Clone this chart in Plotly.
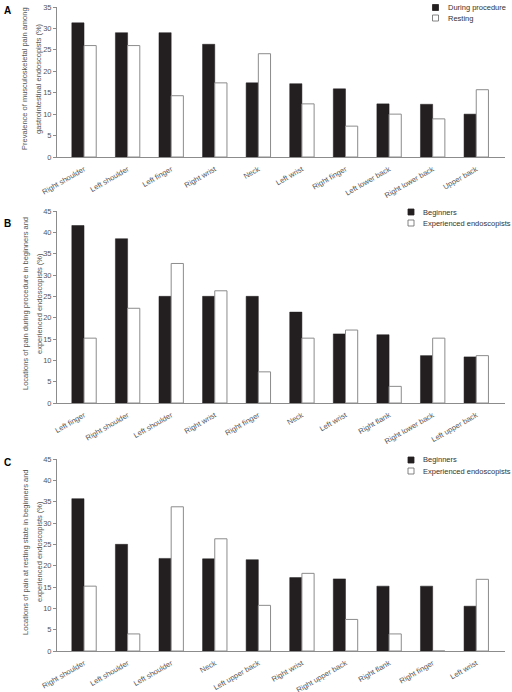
import plotly.graph_objects as go

# Panel A
a_cats = ["Right shoulder", "Left shoulder", "Left finger", "Right wrist", "Neck",
          "Left wrist", "Right finger", "Left lower back", "Right lower back", "Upper back"]
a_during = [31.3, 29.0, 29.0, 26.3, 17.3, 17.1, 15.9, 12.4, 12.3, 10.0]
a_resting = [26.0, 26.0, 14.3, 17.3, 24.1, 12.4, 7.2, 10.0, 8.9, 15.7]

# Panel B
b_cats = ["Left finger", "Right shoulder", "Left shoulder", "Right wrist", "Right finger",
          "Neck", "Left wrist", "Right flank", "Right lower back", "Left upper back"]
b_beginners = [41.6, 38.5, 25.0, 25.0, 25.0, 21.3, 16.2, 16.0, 11.1, 10.8]
b_experienced = [15.2, 22.2, 32.7, 26.3, 7.3, 15.2, 17.1, 3.9, 15.2, 11.1]

# Panel C
c_cats = ["Right shoulder", "Left shoulder", "Left shoulder", "Neck", "Left upper back",
          "Right wrist", "Right upper back", "Right flank", "Right finger", "Left wrist"]
c_beginners = [35.7, 25.0, 21.7, 21.6, 21.4, 17.2, 16.9, 15.2, 15.2, 10.5]
c_experienced = [15.2, 4.0, 33.8, 26.3, 10.7, 18.2, 7.4, 4.0, 0.0, 16.8]

a_ticks = [0, 5, 10, 15, 20, 25, 30, 35]
bc_ticks = [0, 5, 10, 15, 20, 25, 30, 35, 40, 45]

FONT = "Liberation Sans"
TXT = "#555555"
DARK = "#231f20"
EDGE = "#8c8c8c"

H = 692.0
W = 512.0
x_dom = [57 / W, 505 / W]
panels = [
    dict(cats=a_cats, s1=a_during, s2=a_resting, n1="During procedure", n2="Resting",
         top=7, bot=157, ymax=35, ticks=a_ticks, letter="A", ly=10,
         lgx=432.5, lgy=[7.5, 18.0],
         t1="Prevalence of musculoskeletal pain among",
         t2="gastrointestinal endoscopists (%)"),
    dict(cats=b_cats, s1=b_beginners, s2=b_experienced, n1="Beginners", n2="Experienced endoscopists",
         top=211, bot=403, ymax=45, ticks=bc_ticks, letter="B", ly=223,
         lgx=408.0, lgy=[212.0, 223.0],
         t1="Locations of pain during procedure in beginners and",
         t2="experienced endoscopists (%)"),
    dict(cats=c_cats, s1=c_beginners, s2=c_experienced, n1="Beginners", n2="Experienced endoscopists",
         top=459, bot=651, ymax=45, ticks=bc_ticks, letter="C", ly=462,
         lgx=408.0, lgy=[460.0, 471.0],
         t1="Locations of pain at resting state in beginners and",
         t2="experienced endoscopists (%)"),
]

fig = go.Figure()
annotations = []
shapes = []
layout = dict(
    width=512, height=692, margin=dict(l=0, r=0, t=0, b=0, autoexpand=False),
    paper_bgcolor="white", plot_bgcolor="white",
    barmode="group", bargap=0.44, bargroupgap=0.0, showlegend=False,
    font=dict(family=FONT, size=8, color=TXT),
)

for i, p in enumerate(panels):
    sfx = "" if i == 0 else str(i + 1)
    xa, ya = "x" + sfx, "y" + sfx
    xpos = list(range(len(p["cats"])))
    fig.add_trace(go.Bar(x=xpos, y=p["s1"], name=p["n1"], xaxis=xa, yaxis=ya,
                         marker=dict(color=DARK, line=dict(color=DARK, width=0.5))))
    fig.add_trace(go.Bar(x=xpos, y=p["s2"], name=p["n2"], xaxis=xa, yaxis=ya,
                         marker=dict(color="white", line=dict(color=EDGE, width=1))))
    layout["xaxis" + sfx] = dict(
        domain=x_dom, anchor=ya, range=[-0.62, 9.66], automargin=False,
        tickvals=xpos, ticktext=p["cats"], tickangle=-30,
        showline=True, linecolor=EDGE, linewidth=1, ticks="", ticklabelstandoff=4,
        tickfont=dict(family=FONT, size=7.5, color=TXT), showgrid=False, zeroline=False,
    )
    layout["yaxis" + sfx] = dict(
        domain=[1 - p["bot"] / H, 1 - p["top"] / H], anchor=xa, automargin=False,
        range=[0, p["ymax"]], tickvals=p["ticks"],
        showline=True, linecolor=EDGE, linewidth=1, ticks="outside", ticklen=3,
        tickcolor=EDGE, tickfont=dict(family=FONT, size=7.5, color=TXT),
        showgrid=False, zeroline=False,
    )
    # y-axis title (two lines)
    yc = 1 - ((p["top"] + p["bot"]) / 2 - 3) / H
    for txt, xc in ((p["t1"], 25), (p["t2"], 39)):
        annotations.append(dict(
            text=txt, xref="paper", yref="paper", x=xc / W, y=yc,
            xanchor="center", yanchor="middle", textangle=-90, showarrow=False,
            font=dict(family=FONT, size=7.5, color=TXT),
        ))
    # panel letter
    annotations.append(dict(
        text="<b>" + p["letter"] + "</b>", xref="paper", yref="paper",
        x=2 / W, y=1 - p["ly"] / H, xanchor="left", yanchor="middle",
        showarrow=False, font=dict(family=FONT, size=10, color="black"),
    ))
    # legend (manual)
    for name, fill, line, cy in ((p["n1"], DARK, DARK, p["lgy"][0]),
                                 (p["n2"], "white", "#666666", p["lgy"][1])):
        shapes.append(dict(
            type="rect", xref="paper", yref="paper",
            x0=p["lgx"] / W, x1=(p["lgx"] + 6) / W,
            y0=1 - (cy + 3) / H, y1=1 - (cy - 3) / H,
            fillcolor=fill, line=dict(color=line, width=0.8),
        ))
        annotations.append(dict(
            text=name, xref="paper", yref="paper",
            x=(p["lgx"] + 13) / W, y=1 - cy / H, xanchor="left", yanchor="middle",
            showarrow=False, font=dict(family=FONT, size=7.5, color="#333333"),
        ))

layout["annotations"] = annotations
layout["shapes"] = shapes
fig.update_layout(**layout)
fig.write_html("out.html", config={"displayModeBar": False},
               post_script="document.body.style.margin='0';")
